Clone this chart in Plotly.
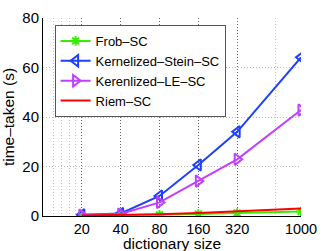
import plotly.graph_objects as go

dict_size = [20, 40, 80, 160, 320, 1000]
tick_labels = ["20", "40", "80", "160", "320", "1000"]
frob_sc = [0.1, 0.3, 0.5, 0.8, 1.2, 1.8]
kstein_sc = [0.5, 1.0, 8.1, 20.6, 34.0, 64.1]
kle_sc = [0.4, 0.8, 5.5, 14.1, 22.9, 42.8]
riem_sc = [0.2, 0.4, 0.7, 1.2, 1.8, 3.0]
y_ticks = [0, 20, 40, 60, 80]

fig = go.Figure()
fig.add_trace(go.Scatter(x=dict_size, y=frob_sc, name="Frob–SC", mode="lines+markers",
                         line=dict(color="#33ee00", width=2),
                         marker=dict(symbol="asterisk-open", size=8, line=dict(color="#33ee00", width=2))))
fig.add_trace(go.Scatter(x=dict_size, y=kstein_sc, name="Kernelized–Stein–SC", mode="lines+markers",
                         line=dict(color="#2040ff", width=2),
                         marker=dict(symbol="triangle-left-open", size=10, line=dict(color="#2040ff", width=2))))
fig.add_trace(go.Scatter(x=dict_size, y=kle_sc, name="Kerenlized–LE–SC", mode="lines+markers",
                         line=dict(color="#c040ff", width=2),
                         marker=dict(symbol="triangle-right-open", size=10, line=dict(color="#c040ff", width=2))))
fig.add_trace(go.Scatter(x=dict_size, y=riem_sc, name="Riem–SC", mode="lines",
                         line=dict(color="#ff0000", width=2)))

fig.update_layout(
    width=332, height=251,
    margin=dict(l=43, r=31, t=18, b=35, autoexpand=False),
    paper_bgcolor="white", plot_bgcolor="white",
    font=dict(family="Liberation Sans, Arial, sans-serif", size=15, color="black"),
    showlegend=True,
    legend=dict(x=0.045, y=0.965, xanchor="left", yanchor="top",
                bgcolor="white", bordercolor="#555", borderwidth=1,
                font=dict(size=13), itemwidth=30, tracegroupgap=0),
    annotations=[dict(text="dictionary size", xref="paper", yref="paper",
                      x=0.5, y=-0.14, xanchor="center", yanchor="middle",
                      showarrow=False, font=dict(size=15.5))],
)
fig.update_xaxes(
    type="log", range=[1, 3], automargin=False,
    tickmode="array", tickvals=dict_size, ticktext=tick_labels,
    showline=True, linecolor="black", linewidth=1, mirror=False,
    showgrid=True, gridcolor="#666", griddash="1px,2px", gridwidth=1,
    ticks="", zeroline=False,
    minor=dict(tickmode="array", tickvals=[12, 14, 16, 18, 630], showgrid=True,
               gridcolor="#c8c8c8", griddash="1px,2px", gridwidth=1, ticks=""),
    tickfont=dict(size=14.5),
)
fig.update_yaxes(
    range=[0, 80], tickmode="array", tickvals=y_ticks, automargin=False,
    showline=True, linecolor="black", linewidth=1, mirror=False,
    showgrid=True, gridcolor="#bbbbbb", griddash="1px,2px", gridwidth=1,
    ticks="", zeroline=False,
    title=dict(text="time–taken (s)", standoff=4, font=dict(size=15.5)),
    tickfont=dict(size=15),
)

fig.write_html("out.html", config={"displayModeBar": False},
               post_script="document.body.style.margin='0';")
